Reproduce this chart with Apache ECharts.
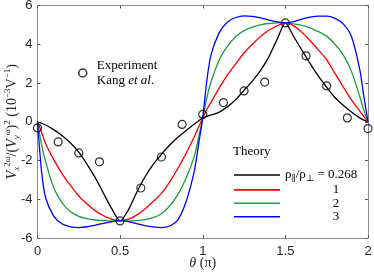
<!DOCTYPE html>
<html><head><meta charset="utf-8">
<script src="https://cdn.jsdelivr.net/npm/echarts@6/dist/echarts.min.js"></script>
<style>html,body{margin:0;padding:0;background:#fff}#c{width:374px;height:277px}</style>
</head><body><div id="c"></div>
<script>
// theta in units of pi
const theta = [0,0.025,0.05,0.1,0.15,0.2,0.25,0.3,0.35,0.4,0.45,0.5,0.55,0.6,0.65,0.7,0.75,0.8,0.85,0.9,0.95,0.975,1,
  1.025,1.05,1.1,1.15,1.2,1.25,1.3,1.35,1.4,1.45,1.5,1.55,1.6,1.65,1.7,1.75,1.8,1.85,1.9,1.95,1.975,2];
const theory0268 = [0,-0.08,-0.17,-0.42,-0.72,-1.1,-1.57,-2.2,-2.9,-3.7,-4.5,-5.12,-4.55,-3.65,-2.85,-2.2,-1.68,-1.2,-0.8,-0.45,-0.12,0.04,0.2,
  0.28,0.35,0.5,0.78,1.15,1.62,2.1,2.65,3.35,4.25,5.1,4.4,3.7,3.0,2.35,1.78,1.25,0.85,0.5,0.2,0.08,0];
const theory1 = [0,-0.55,-1.15,-1.98,-2.7,-3.3,-3.83,-4.25,-4.6,-4.85,-5.03,-5.12,-5.03,-4.82,-4.5,-4.12,-3.7,-3.1,-2.4,-1.62,-0.75,-0.27,0.2,
  0.65,1.0,1.75,2.42,3.0,3.55,4.0,4.4,4.72,4.95,5.1,4.95,4.62,4.18,3.7,3.2,2.5,1.8,1.13,0.55,0.27,0];
const theory2 = [0,-1.2,-2.1,-3.45,-4.2,-4.65,-4.88,-5.0,-5.07,-5.1,-5.12,-5.12,-5.12,-5.1,-5.05,-4.95,-4.75,-4.35,-3.75,-2.9,-1.75,-0.8,0.2,
  1.25,2.05,3.2,3.9,4.4,4.7,4.88,5.0,5.07,5.1,5.1,5.05,4.97,4.85,4.65,4.42,4.0,3.45,2.6,1.3,0.6,0];
const theory3 = [0,-2.6,-3.95,-4.9,-5.28,-5.42,-5.46,-5.42,-5.33,-5.24,-5.15,-5.1,-5.15,-5.26,-5.36,-5.43,-5.46,-5.38,-5.05,-4.1,-2.5,-1.15,0.2,
  2.15,3.45,4.6,5.15,5.38,5.46,5.44,5.36,5.25,5.15,5.1,5.17,5.3,5.4,5.45,5.45,5.34,5.05,4.4,2.7,1.3,0];
const expTheta = [0,0.125,0.25,0.375,0.5,0.625,0.75,0.875,1,1.125,1.25,1.375,1.5,1.625,1.75,1.875,2];
const expValues = [-0.32,-1.04,-1.61,-2.07,-5.12,-3.42,-1.82,-0.14,0.38,0.99,1.59,2.05,5.1,3.4,1.85,0.2,-0.35];
const xTickLabels = ['0','0.5','1','1.5','2'];
const yTickLabels = ['-6','-4','-2','0','2','4','6'];
const theoryNames = ['0.268','1','2','3'];
const theoryColors = ['#000000','#ff0000','#1f9a3f','#0000ff'];

const serif = '"Liberation Serif","DejaVu Serif",serif';
const sans = '"Liberation Sans",Arial,sans-serif';
const pair = (xs, ys) => xs.map((x, i) => [x, ys[i]]);
const theorySets = [theory0268, theory1, theory2, theory3];

const chart = echarts.init(document.getElementById('c'), null, {renderer: 'canvas'});
const axisLineStyle = {color: '#8a8a8a', width: 1};
const tickStyle = {show: true, inside: true, length: 3, lineStyle: {color: '#555', width: 1}};

const series = theorySets.map((vals, k) => ({
  name: 'th' + k,
  type: 'line',
  data: pair(theta, vals),
  symbol: 'none',
  smooth: 0.25,
  lineStyle: {color: theoryColors[k], width: 1.3},
  itemStyle: {color: theoryColors[k]},
  z: 3
}));
series.push({
  name: 'Experiment',
  type: 'scatter',
  data: pair(expTheta, expValues),
  symbol: 'circle',
  symbolSize: 8,
  itemStyle: {color: 'rgba(0,0,0,0)', borderColor: '#000', borderWidth: 1.2},
  z: 4
});

chart.setOption({
  animation: false,
  backgroundColor: '#fff',
  grid: {left: 37.5, right: 6, top: 5.5, bottom: 39, containLabel: false, outerBoundsMode: 'none'},
  xAxis: [{
    type: 'value', min: 0, max: 2, interval: 0.5,
    axisLine: {show: true, onZero: false, lineStyle: axisLineStyle},
    axisTick: tickStyle,
    splitLine: {show: false},
    axisLabel: {margin: 7, color: '#262626', fontSize: 13, fontFamily: sans,
      formatter: v => xTickLabels[Math.round(v / 0.5)]},
    name: '{it|θ} (π)',
    nameLocation: 'middle', nameGap: 18, nameMoveOverlap: false,
    nameTextStyle: {fontFamily: serif, fontSize: 14, color: '#262626',
      rich: {it: {fontFamily: serif, fontStyle: 'italic', fontSize: 14, color: '#262626'}}}
  }, {
    type: 'value', min: 0, max: 2, interval: 0.5, position: 'top',
    axisLine: {show: true, onZero: false, lineStyle: axisLineStyle},
    axisTick: tickStyle, axisLabel: {show: false}, splitLine: {show: false}
  }],
  yAxis: [{
    type: 'value', min: -6, max: 6, interval: 2,
    axisLine: {show: true, onZero: false, lineStyle: axisLineStyle},
    axisTick: tickStyle,
    splitLine: {show: false},
    axisLabel: {margin: 5, color: '#262626', fontSize: 13, fontFamily: sans,
      formatter: v => yTickLabels[Math.round((v + 6) / 2)]},
    name: '{v|V}{sub|x}{sup|2ω}{n|/(}{v|V}{sub|y}{sup|ω}{n|)}{sup|2}{n| (10}{sup|−3}{n|V}{sup|−1}{n|)}',
    nameLocation: 'middle', nameGap: 16, nameRotate: 90, nameMoveOverlap: false,
    nameTextStyle: {fontFamily: serif, fontSize: 13, color: '#262626',
      rich: {
        v: {fontFamily: serif, fontStyle: 'italic', fontSize: 14, color: '#262626', lineHeight: 18, verticalAlign: 'middle'},
        n: {fontFamily: serif, fontSize: 14, color: '#262626', lineHeight: 18, verticalAlign: 'middle'},
        sub: {fontFamily: serif, fontStyle: 'italic', fontSize: 9, color: '#262626', lineHeight: 18, verticalAlign: 'bottom'},
        sup: {fontFamily: serif, fontSize: 9, color: '#262626', lineHeight: 10, verticalAlign: 'top'}
      }}
  }, {
    type: 'value', min: -6, max: 6, interval: 2, position: 'right',
    axisLine: {show: true, onZero: false, lineStyle: axisLineStyle},
    axisTick: tickStyle, axisLabel: {show: false}, splitLine: {show: false}
  }],
  legend: [{
    data: ['Experiment'],
    left: 73, top: 54, orient: 'vertical',
    itemWidth: 18, itemHeight: 8,
    selectedMode: false,
    itemStyle: {color: 'rgba(0,0,0,0)', borderColor: '#000', borderWidth: 1.5},
    formatter: () => '{t|Experiment}\n{t|Kang }{it|et al}{t|.}',
    textStyle: {fontFamily: serif, fontSize: 13, color: '#000',
      rich: {
        t: {fontFamily: serif, fontSize: 13, color: '#000', lineHeight: 15},
        it: {fontFamily: serif, fontStyle: 'italic', fontSize: 13, color: '#000', lineHeight: 15}
      }}
  }, {
    data: ['th0', 'th1', 'th2', 'th3'],
    left: 229, top: 163.5, orient: 'vertical',
    icon: 'rect',
    itemWidth: 46, itemHeight: 1.6, itemGap: 0.4,
    selectedMode: false,
    formatter: name => {
      const k = +name.slice(2);
      if (k === 0) return '{r|ρ}{s|∥}{r|/ρ}{s|⊥}{r| = ' + theoryNames[0] + '}';
      return '{c|' + theoryNames[k] + '}';
    },
    textStyle: {fontFamily: serif, fontSize: 13, color: '#000',
      rich: {
        r: {fontFamily: serif, fontSize: 13, color: '#000', lineHeight: 16},
        s: {fontFamily: serif, fontSize: 9, color: '#000', lineHeight: 16, verticalAlign: 'bottom'},
        c: {fontFamily: serif, fontSize: 13, color: '#000', lineHeight: 16, width: 102, align: 'center'}
      }}
  }],
  graphic: [{
    type: 'text', left: 233, top: 145,
    style: {text: 'Theory', fontFamily: serif, fontSize: 13, fill: '#000'}
  }],
  series: series
});
</script></body></html>
